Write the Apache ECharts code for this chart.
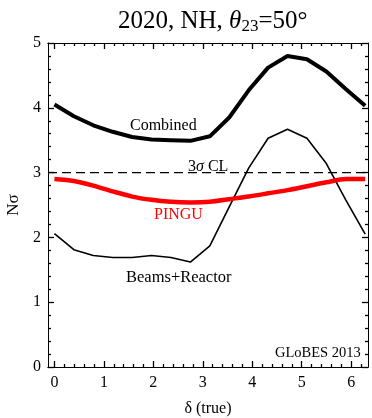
<!DOCTYPE html>
<html><head><meta charset="utf-8">
<script src="https://cdn.jsdelivr.net/npm/echarts@6/dist/echarts.min.js"></script>
<style>html,body{margin:0;padding:0;background:#fff}#c{width:372px;height:418px}</style>
</head><body><div id="c"></div>
<script>
// delta (true) sample points, k*pi/8
const delta = [0, 0.393, 0.785, 1.178, 1.571, 1.963, 2.356, 2.749, 3.142, 3.534, 3.927, 4.320, 4.712, 5.105, 5.498, 5.890, 6.283];
const combined = [4.05, 3.87, 3.73, 3.63, 3.55, 3.51, 3.50, 3.49, 3.56, 3.85, 4.27, 4.62, 4.80, 4.75, 4.56, 4.29, 4.03];
const pingu = [2.90, 2.87, 2.80, 2.71, 2.63, 2.58, 2.55, 2.54, 2.55, 2.59, 2.63, 2.68, 2.73, 2.79, 2.85, 2.90, 2.90];
const beamsReactor = [2.06, 1.81, 1.72, 1.69, 1.69, 1.72, 1.69, 1.62, 1.87, 2.47, 3.07, 3.53, 3.67, 3.53, 3.14, 2.58, 2.05];
const clLevel = 3;
const xMajorTicks = [0, 1, 2, 3, 4, 5, 6];
const xMinorTicks = [0.2,0.4,0.6,0.8,1.2,1.4,1.6,1.8,2.2,2.4,2.6,2.8,3.2,3.4,3.6,3.8,4.2,4.4,4.6,4.8,5.2,5.4,5.6,5.8,6.2];

const FONT = '"Liberation Serif", "DejaVu Serif", serif';
const pair = (ys) => delta.map((d, i) => [d, ys[i]]);

const chart = echarts.init(document.getElementById('c'));
const X_MIN = -0.13, X_MAX = 6.34;
const TICK = {color: '#000', width: 1.3};
function xAx(pos, vals, len, labels, name) {
  return {
    type: 'value', position: pos, min: X_MIN, max: X_MAX,
    axisLine: {show: true, onZero: false, lineStyle: {color: '#000', width: 1}},
    axisTick: {show: true, inside: true, length: len, customValues: vals, lineStyle: TICK},
    axisLabel: labels ? {show: true, customValues: xMajorTicks, fontFamily: FONT, fontSize: 16, color: '#000', margin: 8} : {show: false, customValues: xMajorTicks},
    splitLine: {show: false},
    name: name || '', nameLocation: 'middle', nameGap: 34,
    nameTextStyle: {fontFamily: FONT, fontSize: 16, color: '#000'}
  };
}
function yAx(pos, labels) {
  return {
    type: 'value', position: pos, min: 0, max: 5, interval: 1,
    axisLine: {show: true, onZero: false, lineStyle: {color: '#000', width: 1}},
    axisTick: {show: true, inside: true, length: 6, lineStyle: TICK},
    minorTick: {show: true, splitNumber: 5, length: 3, lineStyle: TICK},
    axisLabel: labels ? {show: true, fontFamily: FONT, fontSize: 16, color: '#000', margin: 7} : {show: false},
    splitLine: {show: false},
    name: labels ? 'Nσ' : '', nameLocation: 'middle', nameGap: 25, nameRotate: 90,
    nameTextStyle: {fontFamily: FONT, fontSize: 17, color: '#000'}
  };
}
chart.setOption({
  animation: false,
  backgroundColor: '#fff',
  title: {
    text: '{a|2020, NH, }{i|θ}{s|23}{a|=50°}',
    left: 113, top: 3,
    textStyle: {
      fontWeight: 'normal',
      rich: {
        a: {fontFamily: FONT, fontSize: 25, fontWeight: 'normal', color: '#000'},
        i: {fontFamily: FONT, fontSize: 25, fontWeight: 'normal', fontStyle: 'italic', color: '#000'},
        s: {fontFamily: FONT, fontSize: 17, fontWeight: 'normal', color: '#000', verticalAlign: 'bottom', padding: [10, 0, 0, 0]}
      }
    }
  },
  grid: {left: 48, right: 4, top: 43, bottom: 51, containLabel: false, outerBoundsMode: 'none'},
  xAxis: [
    xAx('bottom', xMajorTicks, 6, true, 'δ (true)'),
    xAx('bottom', xMinorTicks, 3, false),
    xAx('top', xMajorTicks, 6, false),
    xAx('top', xMinorTicks, 3, false)
  ],
  yAxis: [yAx('left', true), yAx('right', false)],
  series: [
    {type: 'line', name: 'CL', xAxisIndex: 0, yAxisIndex: 0, data: [[X_MIN, clLevel], [X_MAX, clLevel]],
      symbol: 'none', lineStyle: {color: '#000', width: 1.2, type: [9, 5]}, silent: true},
    {type: 'line', name: 'Beams+Reactor', data: pair(beamsReactor), symbol: 'none',
      lineStyle: {color: '#000', width: 1.6}},
    {type: 'line', name: 'PINGU', data: pair(pingu), symbol: 'none', smooth: 0.3,
      lineStyle: {color: '#ff0000', width: 4.5}},
    {type: 'line', name: 'Combined', data: pair(combined), symbol: 'none',
      lineStyle: {color: '#000', width: 4}}
  ],
  graphic: [
    {type: 'text', left: 130, top: 118, style: {text: 'Combined', font: '16px ' + FONT, fill: '#000'}},
    {type: 'text', left: 188, top: 159, style: {text: '{n|3}{i|σ}{n| CL}', rich: {n: {fontFamily: FONT, fontSize: 16, fill: '#000'}, i: {fontFamily: FONT, fontSize: 16, fontStyle: 'italic', fill: '#000'}}}},
    {type: 'text', left: 154, top: 207, style: {text: 'PINGU', font: '16px ' + FONT, fill: '#ff0000'}},
    {type: 'text', left: 126, top: 269, style: {text: 'Beams+Reactor', font: '16.5px ' + FONT, fill: '#000'}},
    {type: 'text', left: 275, top: 346, style: {text: 'GLoBES 2013', font: '14.5px ' + FONT, fill: '#000'}}
  ]
});
</script></body></html>
